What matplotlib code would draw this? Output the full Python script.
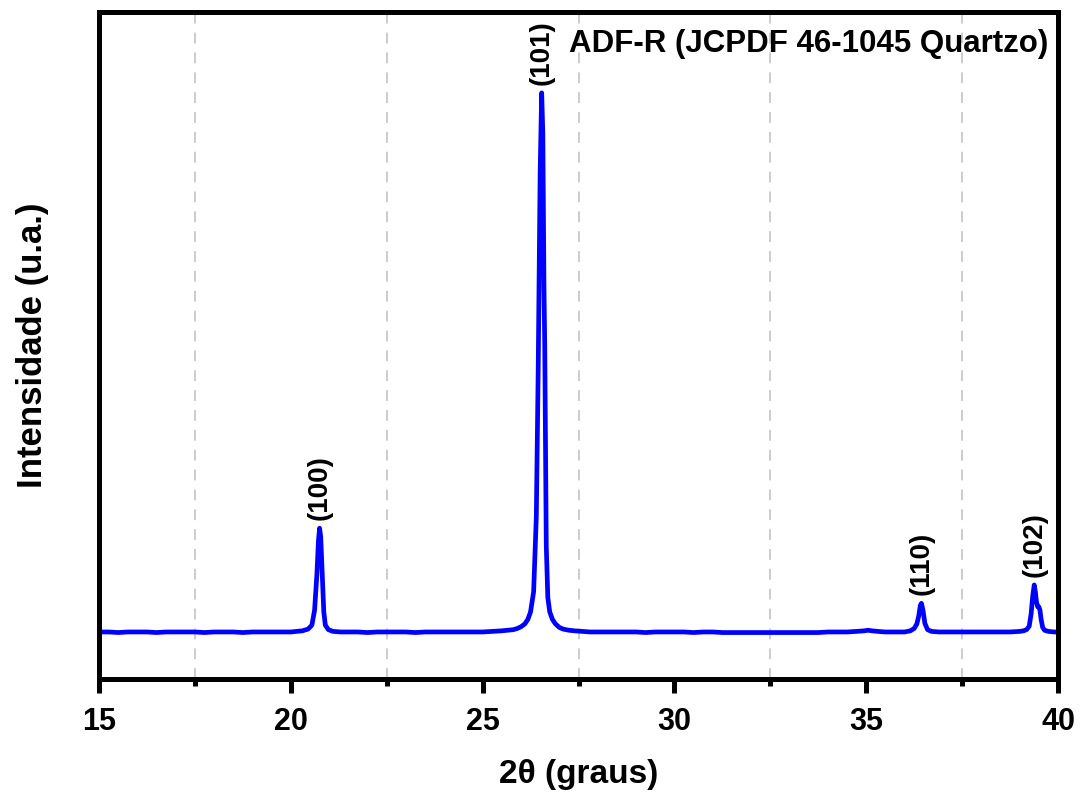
import matplotlib
matplotlib.use("Agg")
import matplotlib.pyplot as plt
from matplotlib.ticker import MultipleLocator

plt.rcParams['font.family'] = ['Liberation Sans', 'DejaVu Sans']

# 2theta (degrees) and intensity (counts)
two_theta = [15.0, 15.25, 15.5, 15.75, 16.0, 16.25, 16.5, 16.75, 17.0, 17.25, 17.5, 17.75,
             18.0, 18.25, 18.5, 18.75, 19.0, 19.25, 19.5, 19.75, 20.0, 20.15, 20.30, 20.45,
             20.55, 20.62, 20.68, 20.72, 20.75, 20.78, 20.82, 20.86, 20.90, 20.98, 21.1,
             21.3, 21.5, 21.75, 22.0, 22.25, 22.5, 22.75, 23.0, 23.25, 23.5, 23.75, 24.0,
             24.25, 24.5, 24.75, 25.0, 25.25, 25.5, 25.65, 25.8, 25.9, 26.0, 26.1, 26.18,
             26.25, 26.33, 26.40, 26.45, 26.50, 26.54, 26.57, 26.60, 26.62, 26.64, 26.66,
             26.70, 26.75, 26.82, 26.9, 27.0, 27.1, 27.25, 27.4, 27.6, 27.8, 28.0, 28.25,
             28.5, 28.75, 29.0, 29.25, 29.5, 29.75, 30.0, 30.25, 30.5, 30.75, 31.0, 31.25,
             31.5, 31.75, 32.0, 32.25, 32.5, 32.75, 33.0, 33.25, 33.5, 33.75, 34.0, 34.25,
             34.5, 34.75, 34.95, 35.05, 35.15, 35.3, 35.5, 35.75, 36.0, 36.15, 36.25, 36.32,
             36.37, 36.41, 36.44, 36.48, 36.53, 36.6, 36.7, 36.9, 37.1, 37.3, 37.5, 37.75,
             38.0, 38.25, 38.5, 38.75, 39.0, 39.1, 39.18, 39.25, 39.30, 39.34, 39.38, 39.41,
             39.44, 39.47, 39.50, 39.53, 39.56, 39.60, 39.65, 39.75, 39.9, 40.0]
intensity = [60, 60, 59, 60, 60, 60, 59, 60, 60, 60, 60, 59,
             60, 60, 60, 59, 60, 60, 60, 60, 60, 61, 62, 65,
             72, 98, 160, 218, 241, 226, 160, 95, 72, 64, 61,
             60, 60, 60, 59, 60, 60, 60, 60, 59, 60, 60, 60,
             60, 60, 60, 60, 61, 62, 63, 64, 66, 69, 74, 82,
             95, 130, 260, 520, 860, 1000, 930, 660, 560, 390, 210,
             120, 95, 82, 74, 68, 65, 63, 62, 61, 60, 60, 60,
             60, 60, 60, 59, 60, 60, 60, 60, 59, 60, 60, 59,
             59, 59, 59, 59, 59, 59, 59, 59, 59, 59, 60, 60,
             60, 61, 62, 63, 62, 61, 60, 60, 60, 62, 66, 74,
             88, 106, 110, 98, 75, 64, 61, 60, 60, 60, 60, 60,
             60, 60, 60, 60, 61, 62, 64, 70, 92, 122, 142, 130,
             112, 104, 104, 98, 82, 68, 63, 61, 60, 60]

major_ticks = [15, 20, 25, 30, 35, 40]
peak_labels = ["(100)", "(101)", "(110)", "(102)"]
peak_pos = [20.75, 26.54, 36.44, 39.38]
peak_top = [241, 1000, 110, 142]

fig = plt.figure(figsize=(10.82, 8.0), dpi=100)
ax = fig.add_axes([99/1082, 1 - 679/800, (1058-99)/1082, (679-12)/800])

ax.plot(two_theta, intensity, color='#0000ff', lw=3.4, solid_joinstyle='round')

ax.set_xlim(15, 40)
ax.set_ylim(-22, 1141)
ax.xaxis.set_minor_locator(MultipleLocator(2.5))
ax.set_xticks(major_ticks)
ax.set_xticklabels([str(t) for t in major_ticks])
ax.set_yticks([])

for xm in [17.5, 22.5, 27.5, 32.5, 37.5]:
    ax.axvline(xm, color='#c8c8c8', lw=1.3, ls=(0, (6, 5)), zorder=0)

for s in ax.spines.values():
    s.set_linewidth(3.6)
ax.tick_params(axis='x', which='major', direction='out', length=10, width=3.6,
               labelsize=22, pad=10)
ax.tick_params(axis='x', which='minor', direction='out', length=5, width=3.6)
for lab in ax.get_xticklabels():
    lab.set_fontweight('bold')

ax.set_xlabel("2θ (graus)", fontsize=24, fontweight='bold', labelpad=16)
ax.set_ylabel("Intensidade (u.a.)", fontsize=25, fontweight='bold', labelpad=36)

ax.text(0.990, 0.975, "ADF-R (JCPDF 46-1045 Quartzo)", transform=ax.transAxes,
        ha='right', va='top', fontsize=22.5, fontweight='bold')

for lab, xp, yp in zip(peak_labels, peak_pos, peak_top):
    ax.annotate(lab, (xp, yp), xytext=(0, 6), textcoords='offset points',
                rotation=90, ha='center', va='bottom', fontsize=20, fontweight='bold')

fig.savefig("out.png", dpi=100)
